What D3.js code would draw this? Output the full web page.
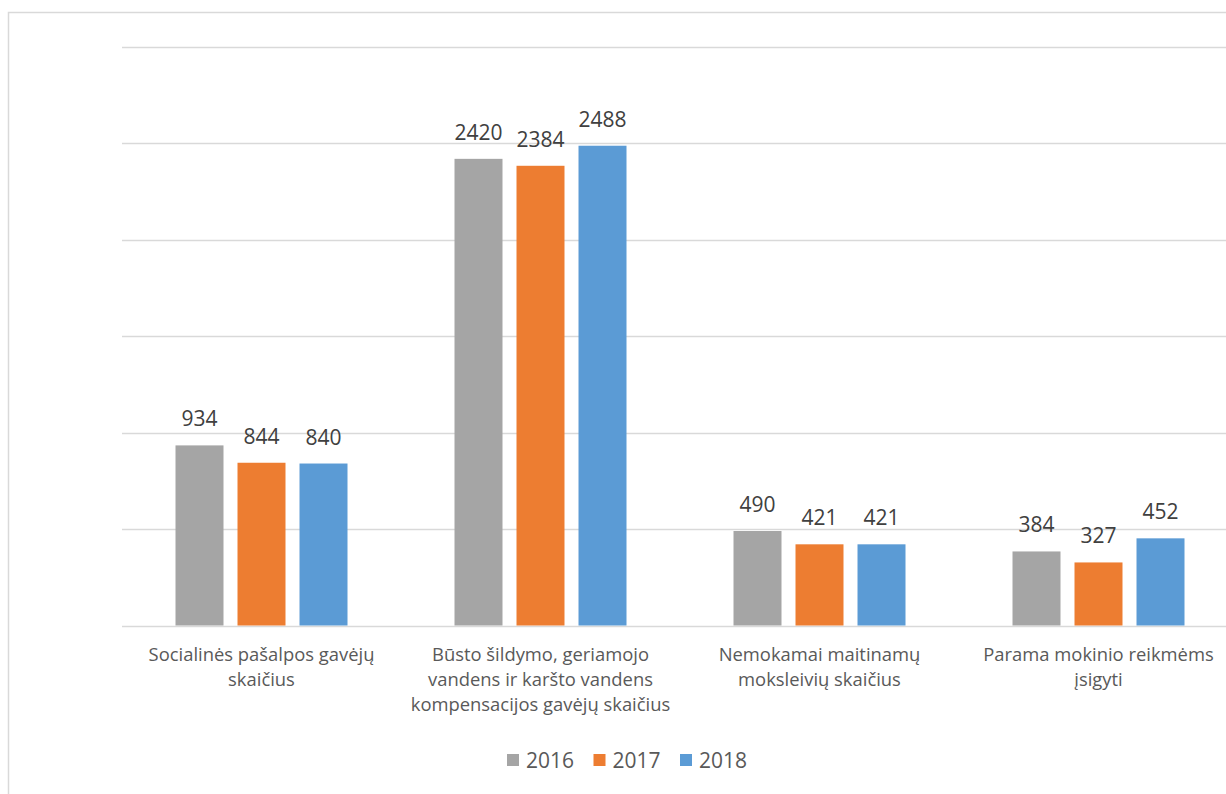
<!DOCTYPE html>
<html>
<head>
<meta charset="utf-8">
<script src="https://cdn.jsdelivr.net/npm/d3@7"></script>
<style>
  html, body { margin: 0; padding: 0; background: #fff; overflow: hidden; }
  text { font-family: "Open Sans", "Noto Sans", sans-serif; }
</style>
</head>
<body>
<div id="chart"></div>
<script>
// Data
const categories = [
    "Socialinės pašalpos gavėjų\nskaičius",
    "Būsto šildymo, geriamojo\nvandens ir karšto vandens\nkompensacijos gavėjų skaičius",
    "Nemokamai maitinamų\nmoksleivių skaičius",
    "Parama mokinio reikmėms\nįsigyti"
];
const years = ["2016", "2017", "2018"];
const values2016 = [934, 2420, 490, 384];
const values2017 = [844, 2384, 421, 327];
const values2018 = [840, 2488, 421, 452];
const yTicks = [0, 500, 1000, 1500, 2000, 2500, 3000];
const colors = ["#a5a5a5", "#ed7d31", "#5b9bd5"];

const width = 1226, height = 794;
const margin = { top: 47, right: -12, bottom: 168, left: 122 };

const svg = d3.select("#chart").append("svg")
    .attr("width", width)
    .attr("height", height);

// chart frame
svg.append("rect")
    .attr("x", 8.5).attr("y", 12.5)
    .attr("width", width + 20).attr("height", height + 20)
    .attr("fill", "none")
    .attr("stroke", "#d9d9d9")
    .attr("stroke-width", 1.5);

const x0 = d3.scaleBand()
    .domain(d3.range(categories.length))
    .range([margin.left, width - margin.right])
    .paddingInner(0).paddingOuter(0);

const groupWidth = 172;
const x1 = d3.scaleBand()
    .domain(years)
    .range([(x0.bandwidth() - groupWidth) / 2, (x0.bandwidth() + groupWidth) / 2])
    .paddingInner(0.226).paddingOuter(0);

const y = d3.scaleLinear()
    .domain([0, 3000])
    .range([height - margin.bottom - 0.5, margin.top]);

// gridlines
svg.append("g")
    .selectAll("line")
    .data(yTicks)
    .join("line")
    .attr("x1", margin.left)
    .attr("x2", width)
    .attr("y1", d => Math.round(y(d)) + 0.5)
    .attr("y2", d => Math.round(y(d)) + 0.5)
    .attr("stroke", "#d9d9d9")
    .attr("stroke-width", 1.5);

const series = [values2016, values2017, values2018];

const groups = svg.append("g")
    .selectAll("g")
    .data(categories.map((c, i) => i))
    .join("g")
    .attr("transform", i => `translate(${x0(i)},0)`);

groups.selectAll("rect")
    .data(i => years.map((yr, s) => ({ yr, s, v: series[s][i] })))
    .join("rect")
    .attr("x", d => x1(d.yr))
    .attr("width", x1.bandwidth())
    .attr("y", d => y(d.v))
    .attr("height", d => y(0) - y(d.v))
    .attr("fill", d => colors[d.s]);

groups.selectAll("text.val")
    .data(i => years.map((yr, s) => ({ yr, s, v: series[s][i] })))
    .join("text")
    .attr("class", "val")
    .attr("x", d => x1(d.yr) + x1.bandwidth() / 2)
    .attr("y", d => y(d.v) - 19)
    .attr("text-anchor", "middle")
    .attr("font-size", 21)
    .attr("fill", "#404040")
    .text(d => d.v);

// category labels
groups.append("text")
    .attr("text-anchor", "middle")
    .attr("font-size", 18.4)
    .attr("fill", "#595959")
    .selectAll("tspan")
    .data(i => categories[i].split("\n"))
    .join("tspan")
    .attr("x", x0.bandwidth() / 2)
    .attr("y", (d, k) => y(0) + 35 + k * 25)
    .text(d => d);

// legend
const legend = svg.append("g")
    .attr("transform", "translate(507,754)");

const legendItems = legend.selectAll("g")
    .data(years)
    .join("g")
    .attr("transform", (d, i) => `translate(${i * 86.5},0)`);

legendItems.append("rect")
    .attr("width", 12).attr("height", 12)
    .attr("fill", (d, i) => colors[i]);

legendItems.append("text")
    .attr("x", 19).attr("y", 14)
    .attr("font-size", 21)
    .attr("fill", "#595959")
    .text(d => d);
</script>
</body>
</html>
